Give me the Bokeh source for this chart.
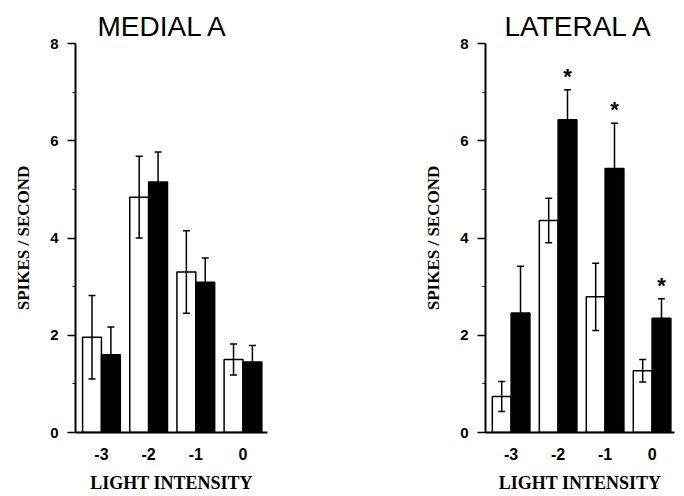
import numpy as np
from bokeh.plotting import figure
from bokeh.layouts import row
from bokeh.models import FixedTicker, Title, Whisker, ColumnDataSource, TeeHead
from bokeh.embed import file_html
from bokeh.resources import INLINE
from bokeh.core.properties import value

# ---- data ----
intensity = [-3, -2, -1, 0]
x_tick_labels = ["-3", "-2", "-1", "0"]
y_ticks = [0, 2, 4, 6, 8]
y_minor_ticks = [1, 3, 5, 7]

medial_light = [1.96, 4.84, 3.30, 1.50]       # open bars
medial_light_err = [0.86, 0.84, 0.85, 0.32]
medial_dark = [1.60, 5.15, 3.09, 1.45]        # filled bars
medial_dark_err = [0.57, 0.62, 0.50, 0.34]
medial_sig = [False, False, False, False]

lateral_light = [0.74, 4.36, 2.79, 1.27]
lateral_light_err = [0.31, 0.46, 0.69, 0.23]
lateral_dark = [2.46, 6.43, 5.43, 2.35]
lateral_dark_err = [0.96, 0.62, 0.93, 0.40]
lateral_sig = [False, True, True, True]

BAR_W = 0.40
OFF = 0.20


def make_panel(title, light, light_err, dark, dark_err, sig, x_range,
               border_left, border_right, title_offset):
    p = figure(width=342, height=496, x_range=x_range, y_range=(0, 8),
               output_backend="svg", toolbar_location=None,
               min_border_left=border_left, min_border_right=border_right,
               min_border_top=43, min_border_bottom=64)
    p.outline_line_color = None
    p.grid.visible = False
    p.background_fill_color = "white"

    x = np.array(intensity, dtype=float)
    light = np.array(light); light_err = np.array(light_err)
    dark = np.array(dark); dark_err = np.array(dark_err)

    p.vbar(x=x - OFF, top=light, width=BAR_W, fill_color="white",
           line_color="black", line_width=1.5)
    p.vbar(x=x + OFF, top=dark, width=BAR_W, fill_color="black",
           line_color="black", line_width=1.5)

    for xs, m, e in ((x - OFF, light, light_err), (x + OFF, dark, dark_err)):
        src = ColumnDataSource(dict(base=xs, upper=m + e, lower=m - e))
        w = Whisker(base="base", upper="upper", lower="lower", source=src,
                    line_color="black", line_width=1.5,
                    upper_head=TeeHead(size=7, line_width=1.5, line_color="black"),
                    lower_head=TeeHead(size=7, line_width=1.5, line_color="black"))
        w.level = "overlay"
        p.add_layout(w)

    sig = np.array(sig)
    if sig.any():
        star_src = ColumnDataSource(dict(x=(x + OFF)[sig],
                                         y=(dark + dark_err)[sig] + 0.28,
                                         t=["*"] * int(sig.sum())))
        p.text(x="x", y="y", text="t", source=star_src,
               text_font=value("Liberation Sans"), text_font_style="bold",
               text_font_size="22px", text_align="center",
               text_baseline="middle", text_color="black")

    # axes
    p.xaxis.ticker = FixedTicker(ticks=intensity)
    p.xaxis.major_label_overrides = {t: l for t, l in zip(intensity, x_tick_labels)}
    p.xaxis.major_tick_out = 0
    p.xaxis.major_tick_in = 0
    p.xaxis.minor_tick_out = 0
    p.xaxis.minor_tick_in = 0
    p.xaxis.axis_line_width = 2
    p.xaxis.major_label_standoff = 15
    p.xaxis.major_label_text_font = "Liberation Sans"
    p.xaxis.major_label_text_font_style = "bold"
    p.xaxis.major_label_text_font_size = "16px"
    p.xaxis.major_label_text_color = "black"
    p.xaxis.axis_label = "LIGHT INTENSITY"
    p.xaxis.axis_label_text_font = "Liberation Serif"
    p.xaxis.axis_label_text_font_style = "bold"
    p.xaxis.axis_label_text_font_size = "18px"
    p.xaxis.axis_label_text_color = "black"
    p.xaxis.axis_label_standoff = 10

    p.yaxis.ticker = FixedTicker(ticks=y_ticks, minor_ticks=y_minor_ticks)
    p.yaxis.axis_line_width = 2
    p.yaxis.major_tick_out = 8
    p.yaxis.major_tick_in = 0
    p.yaxis.major_tick_line_width = 1.5
    p.yaxis.minor_tick_out = 3
    p.yaxis.minor_tick_in = 0
    p.yaxis.minor_tick_line_width = 1
    p.yaxis.major_label_standoff = 9
    p.yaxis.major_label_text_font = "Liberation Sans"
    p.yaxis.major_label_text_font_style = "bold"
    p.yaxis.major_label_text_font_size = "15px"
    p.yaxis.major_label_text_color = "black"
    p.yaxis.axis_label = "SPIKES / SECOND"
    p.yaxis.axis_label_text_font = "Liberation Serif"
    p.yaxis.axis_label_text_font_style = "bold"
    p.yaxis.axis_label_text_font_size = "17px"
    p.yaxis.axis_label_text_color = "black"
    p.yaxis.axis_label_standoff = 14

    p.add_layout(Title(text=title, align="left", offset=title_offset,
                       standoff=4, text_font="Liberation Sans",
                       text_font_style="normal", text_font_size="28px",
                       text_color="black"), "above")
    return p


left = make_panel("MEDIAL A", medial_light, medial_light_err, medial_dark,
                  medial_dark_err, medial_sig, (-3.55, 0.52), 75, 75, 22)
right = make_panel("LATERAL A", lateral_light, lateral_light_err, lateral_dark,
                   lateral_dark_err, lateral_sig, (-3.545, 0.477), 143, 10, 19)

layout = row(left, right)
open("out.html", "w").write(file_html(layout, INLINE))
